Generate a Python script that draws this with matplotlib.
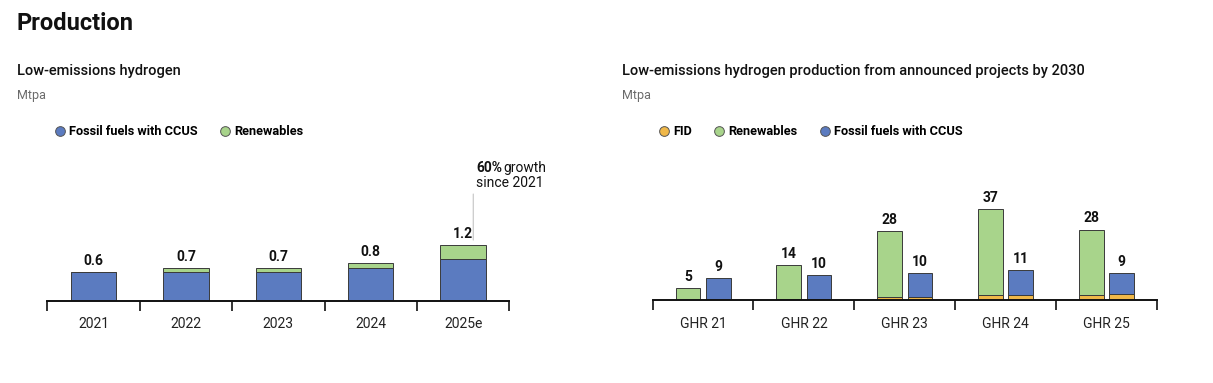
import matplotlib
matplotlib.use("Agg")
import matplotlib.pyplot as plt
from matplotlib.lines import Line2D
import numpy as np

plt.rcParams["font.family"] = ["Roboto", "DejaVu Sans"]

# left chart: low-emissions hydrogen production (Mtpa)
years = ["2021", "2022", "2023", "2024", "2025e"]
fossil_ccus = [0.60, 0.60, 0.60, 0.68, 0.88]
renewables = [0.00, 0.08, 0.08, 0.11, 0.28]
total_labels = ["0.6", "0.7", "0.7", "0.8", "1.2"]

# right chart: announced projects by 2030 (Mtpa)
reports = ["GHR 21", "GHR 22", "GHR 23", "GHR 24", "GHR 25"]
ren_total = [4.8, 14.1, 27.9, 37.0, 28.6]
ren_fid = [0.2, 0.6, 1.2, 1.9, 1.9]
fos_total = [9.0, 10.2, 10.8, 12.3, 10.8]
fos_fid = [0.2, 0.6, 1.2, 1.9, 2.3]
ren_labels = ["5", "14", "28", "37", "28"]
fos_labels = ["9", "10", "10", "11", "9"]

BLUE = "#5b7bc0"
GREEN = "#a8d48b"
ORANGE = "#f0b849"
EDGE = "#3a3a3a"
GREY = "#6b6b6b"

W, H = 1213, 383
fig = plt.figure(figsize=(W / 100, H / 100), dpi=100)


def px_axes(x0, x1, y_base, height):
    return fig.add_axes([x0 / W, (H - y_base) / H, (x1 - x0) / W, height / H])


def ftext(x_px, y_px, s, **kw):
    return fig.text(x_px / W, 1 - y_px / H, s, va="center", color=kw.pop("color", "#111111"), **kw)


def style_axis(ax, labels):
    n = len(labels)
    ax.set_xlim(-0.5, n - 0.5)
    for side in ("top", "right", "left"):
        ax.spines[side].set_visible(False)
    ax.spines["bottom"].set_linewidth(1.4)
    ax.spines["bottom"].set_color("#111111")
    ax.set_yticks([])
    ax.set_xticks(range(n))
    ax.set_xticklabels(labels, fontsize=10, color="#222222")
    ax.tick_params(axis="x", which="major", length=0, pad=12)
    ax.set_xticks(np.arange(n + 1) - 0.5, minor=True)
    ax.tick_params(axis="x", which="minor", length=7, width=1.2, color="#111111", direction="out")


def legend_at(x_px, y_px, entries):
    handles = [Line2D([], [], ls="", marker="o", ms=7, mfc=c, mec="#555555", mew=0.7) for c, _ in entries]
    fig.legend(handles, [t for _, t in entries], loc="center left",
               bbox_to_anchor=(x_px / W, 1 - y_px / H), frameon=False, ncol=len(entries),
               handletextpad=0.15, columnspacing=1.6, handlelength=1.1, borderaxespad=0,
               prop={"weight": "bold", "size": 9.2})


# headings
ftext(16, 23, "Production", fontsize=17, weight="bold")
ftext(17, 71, "Low-emissions hydrogen", fontsize=10.5, weight="medium")
ftext(17, 95, "Mtpa", fontsize=9, color=GREY)
ftext(622, 71, "Low-emissions hydrogen production from announced projects by 2030", fontsize=10.5, weight="medium")
ftext(622, 95, "Mtpa", fontsize=9, color=GREY)

# left chart
axl = px_axes(47.3, 509.3, 300.7, 150)
axl.set_ylim(0, 150 / 47.8)
xl = np.arange(len(years))
axl.bar(xl, fossil_ccus, width=0.49, color=BLUE, edgecolor=EDGE, linewidth=0.7)
axl.bar(xl, renewables, bottom=fossil_ccus, width=0.49, color=GREEN, edgecolor=EDGE, linewidth=0.7)
tops = np.array(fossil_ccus) + np.array(renewables)
for x, t, lab in zip(xl, tops, total_labels):
    axl.annotate(lab, (x, t), xytext=(0, 3), textcoords="offset points", ha="center", va="bottom",
                 fontsize=10, weight="bold", color="#111111")
style_axis(axl, years)
# callout on 2025e
axl.annotate("", xy=(4.11, tops[-1] + 0.05), xytext=(4.11, tops[-1] + 1.13),
             arrowprops=dict(arrowstyle="-", color="#c4c4c4", lw=0.8))
ftext(476, 168, "60%", fontsize=10, weight="bold", ha="left")
ftext(503, 168, "growth", fontsize=10, ha="left")
ftext(476, 183, "since 2021", fontsize=10, ha="left")
legend_at(48, 132, [(BLUE, "Fossil fuels with CCUS"), (GREEN, "Renewables")])

# right chart
axr = px_axes(652.6, 1157, 300, 150)
axr.set_ylim(0, 150 / 2.46)
xr = np.arange(len(reports))
off, bw = 0.15, 0.245
ren_rest = np.array(ren_total) - np.array(ren_fid)
fos_rest = np.array(fos_total) - np.array(fos_fid)
axr.bar(xr - off, ren_fid, width=bw, color=ORANGE, edgecolor=EDGE, linewidth=0.7)
axr.bar(xr - off, ren_rest, bottom=ren_fid, width=bw, color=GREEN, edgecolor=EDGE, linewidth=0.7)
axr.bar(xr + off, fos_fid, width=bw, color=ORANGE, edgecolor=EDGE, linewidth=0.7)
axr.bar(xr + off, fos_rest, bottom=fos_fid, width=bw, color=BLUE, edgecolor=EDGE, linewidth=0.7)
for x, t, lab in zip(xr - off, ren_total, ren_labels):
    axr.annotate(lab, (x, t), xytext=(0, 3), textcoords="offset points", ha="center", va="bottom",
                 fontsize=10, weight="bold", color="#111111")
for x, t, lab in zip(xr + off, fos_total, fos_labels):
    axr.annotate(lab, (x, t), xytext=(0, 3), textcoords="offset points", ha="center", va="bottom",
                 fontsize=10, weight="bold", color="#111111")
style_axis(axr, reports)
legend_at(652, 132, [(ORANGE, "FID"), (GREEN, "Renewables"), (BLUE, "Fossil fuels with CCUS")])

fig.savefig("out.png", dpi=100, facecolor="white")
